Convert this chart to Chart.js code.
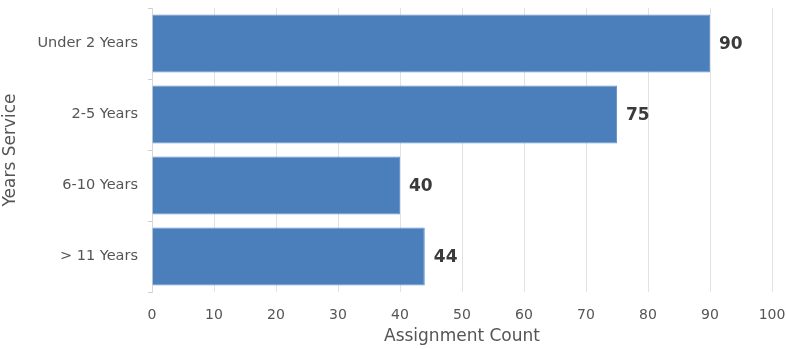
<!DOCTYPE html>
<html>
<head>
<meta charset="utf-8">
<script src="https://cdn.jsdelivr.net/npm/chart.js@4/dist/chart.umd.min.js"></script>
<style>
  html, body { margin: 0; padding: 0; background: #fff; }
  #wrap { width: 786px; height: 349px; }
</style>
</head>
<body>
<div id="wrap"><canvas id="grafica"></canvas></div>
<script>
// Datos
const categorias = ['Under 2 Years', '2-5 Years', '6-10 Years', '> 11 Years'];
const cantidades = [90, 75, 40, 44];
const ticksX = [0, 10, 20, 30, 40, 50, 60, 70, 80, 90, 100];

// etiquetas al final de cada barra
const etiquetas = {
  id: 'etiquetas',
  afterDatasetsDraw(chart) {
    const ctx = chart.ctx;
    const meta = chart.getDatasetMeta(0);
    ctx.save();
    ctx.font = 'bold 17px "DejaVu Sans"';
    ctx.fillStyle = '#3a3a3a';
    ctx.textAlign = 'left';
    ctx.textBaseline = 'middle';
    meta.data.forEach((bar, i) => {
      ctx.fillText(String(cantidades[i]), bar.x + 9, bar.y + 1);
    });
    ctx.restore();
  }
};

const ctx = document.getElementById('grafica').getContext('2d');
const myChart = new Chart(ctx, {
  type: 'bar',
  data: {
    labels: categorias,
    datasets: [{
      data: cantidades,
      backgroundColor: '#4b7fbc',
      borderColor: '#6a96cb',
      borderWidth: 1,
      barPercentage: 0.9,
      categoryPercentage: 0.91
    }]
  },
  options: {
    indexAxis: 'y',
    responsive: true,
    maintainAspectRatio: false,
    animation: false,
    layout: { padding: { top: 8, right: 0, left: 0, bottom: 0 } },
    plugins: {
      legend: { display: false },
      tooltip: { enabled: false }
    },
    scales: {
      x: {
        min: 0,
        max: 100,
        afterBuildTicks: s => { s.ticks = ticksX.map(v => ({ value: v })); },
        afterFit: s => { s.height = 57; s.paddingRight = 14; s.paddingLeft = 0; },
        grid: { color: '#e2e2e2', drawTicks: false },
        border: { display: false },
        ticks: { color: '#555', padding: 15, maxRotation: 0, autoSkip: false, font: { family: 'DejaVu Sans', size: 14 } },
        title: {
          display: true,
          text: 'Assignment Count',
          color: '#555',
          padding: { top: 0, bottom: 2 },
          font: { family: 'DejaVu Sans', size: 17 }
        }
      },
      y: {
        afterFit: s => { s.width = 152; s.paddingTop = 0; s.paddingBottom = 0; },
        offset: true,
        grid: { drawOnChartArea: false, tickLength: 4, color: '#cfcfcf' },
        border: { display: true, color: '#d8d8d8' },
        ticks: { color: '#555', padding: 10, font: { family: 'DejaVu Sans', size: 14.5 } },
        title: {
          display: true,
          text: 'Years Service',
          color: '#555',
          padding: { top: 0, bottom: 0 },
          font: { family: 'DejaVu Sans', size: 17 }
        }
      }
    }
  },
  plugins: [etiquetas]
});
</script>
</body>
</html>
